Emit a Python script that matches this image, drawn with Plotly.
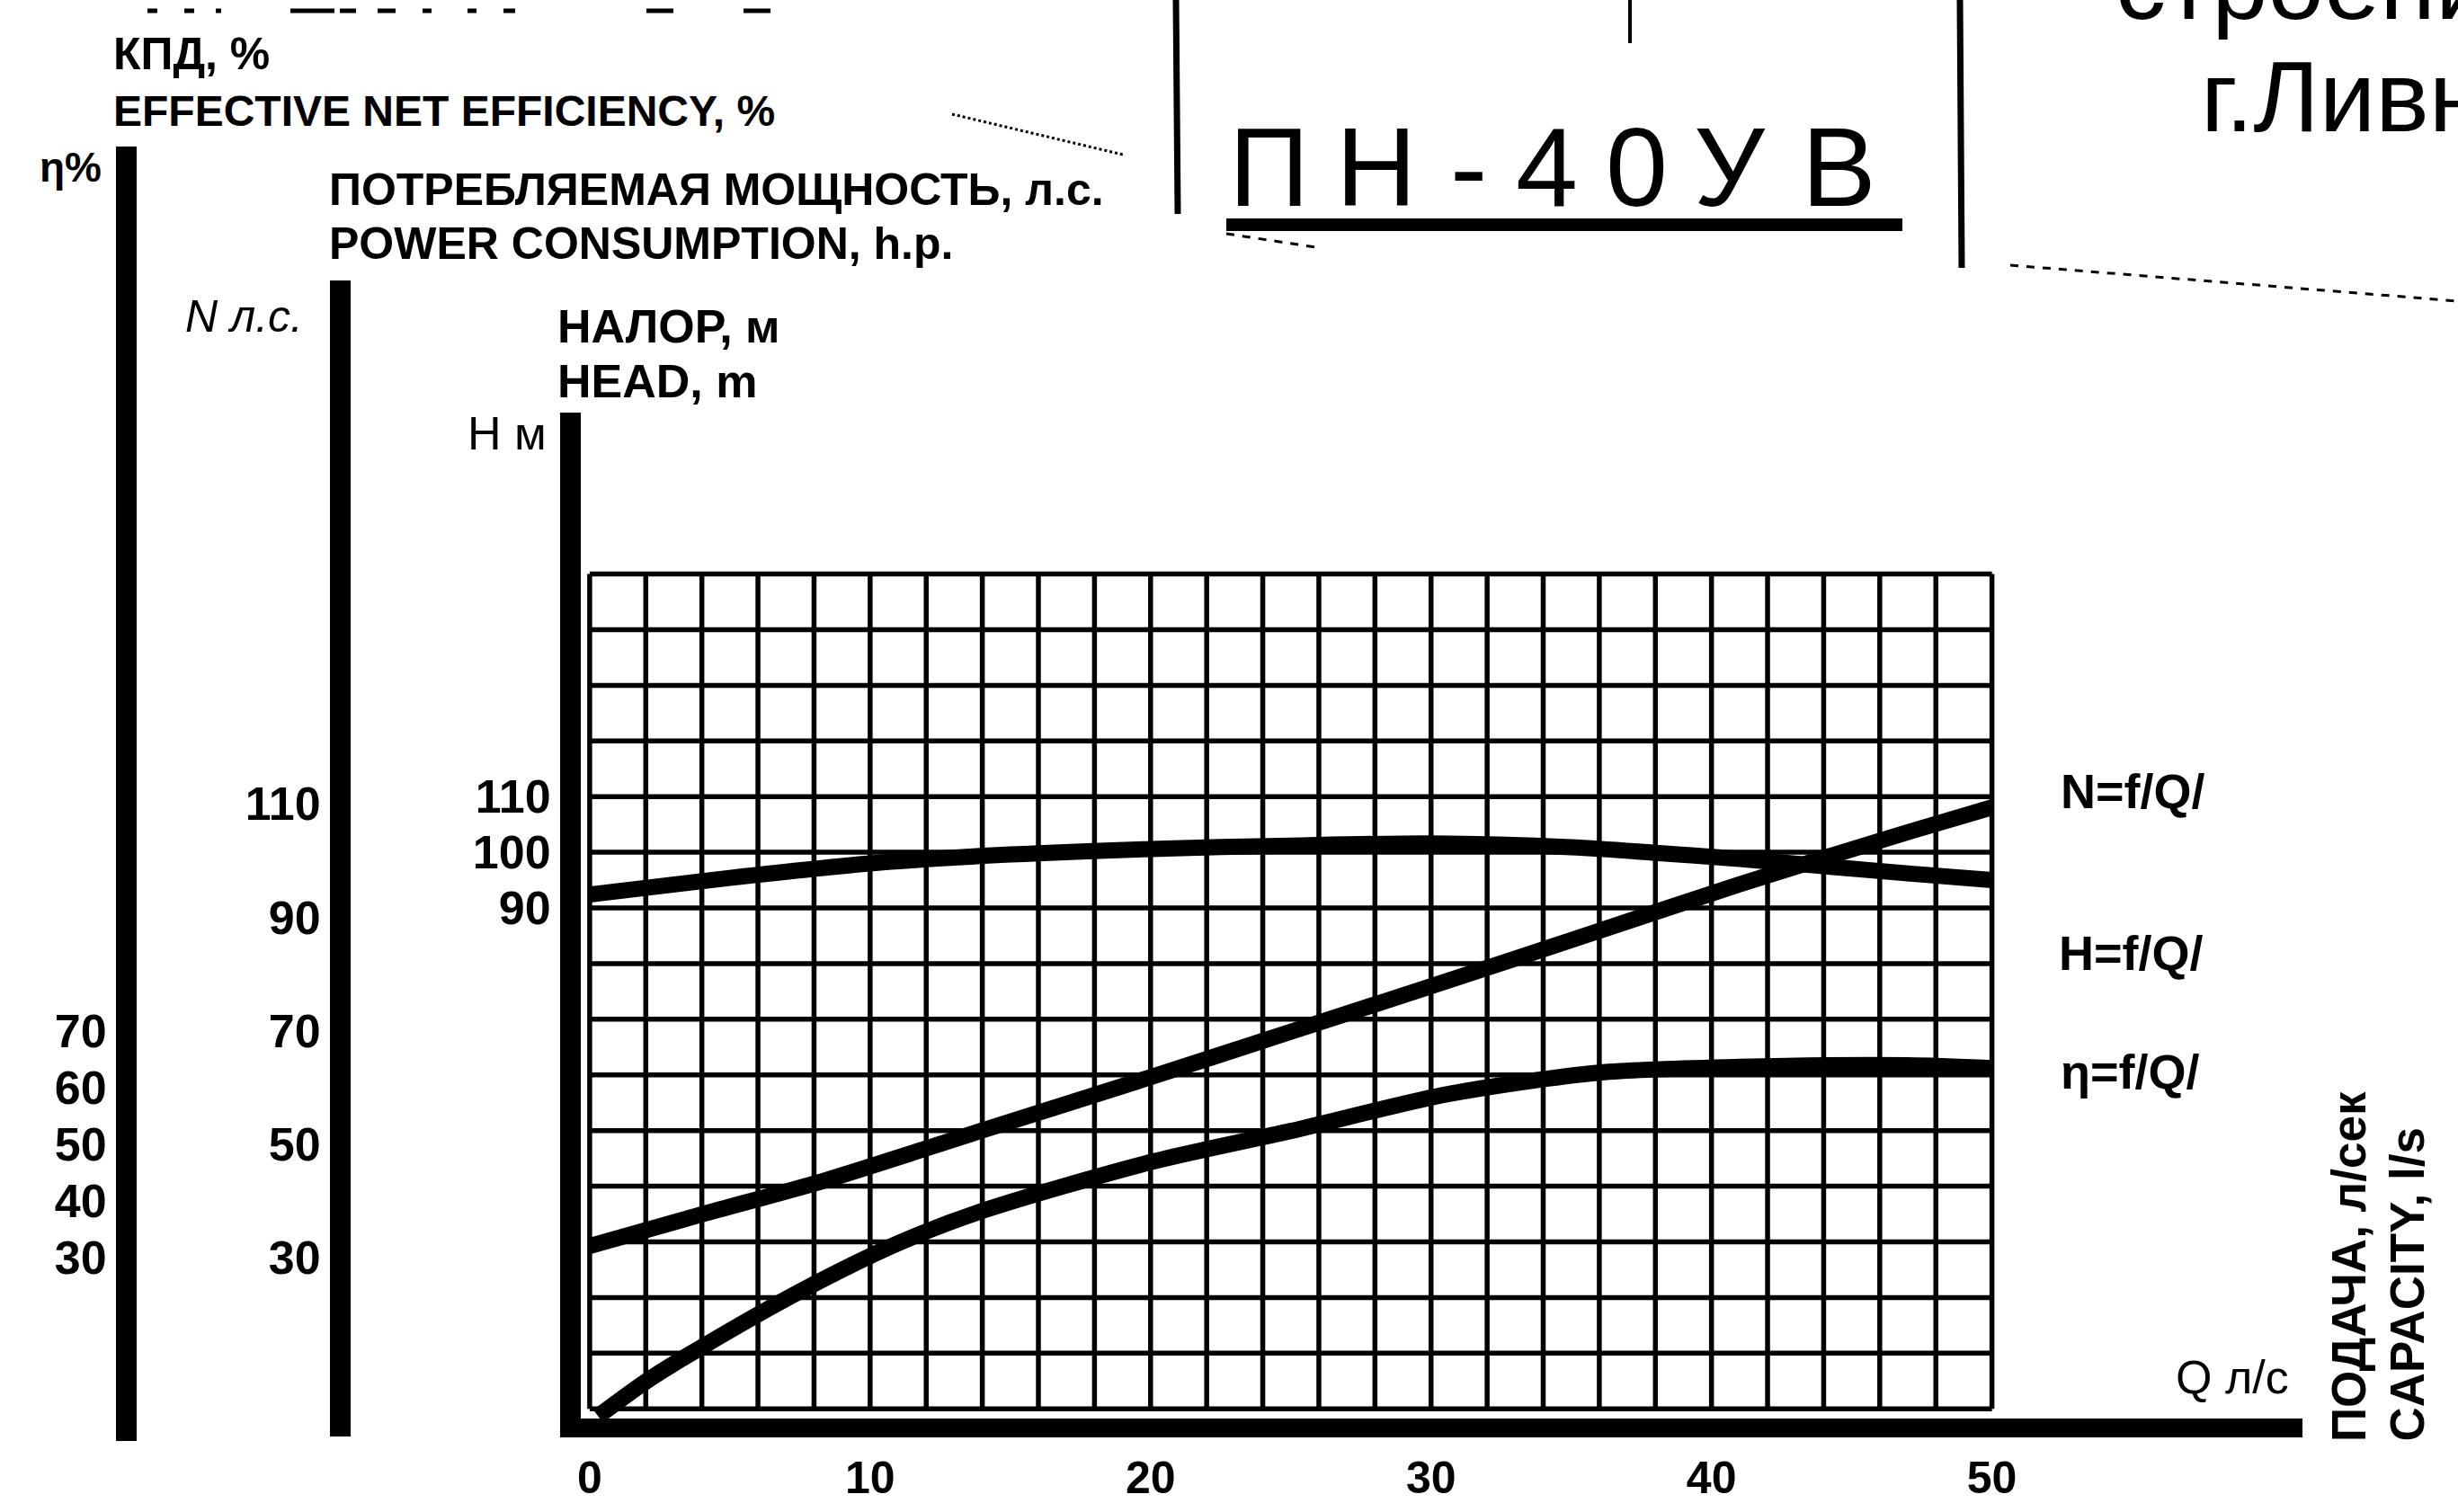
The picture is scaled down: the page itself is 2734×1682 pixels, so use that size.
import plotly.graph_objects as go

W, H = 2734, 1682

# ---------------- data ----------------
Q_head = [0, 5, 10, 15, 20, 25, 30, 35, 38, 41, 44, 47, 50]
head_m = [92.4, 95.4, 98.0, 99.6, 100.6, 101.2, 101.6, 100.9, 99.9, 98.8, 97.5, 96.2, 95.0]

Q_power = [0, 4, 8.4, 14, 20, 25, 30.6, 36, 41, 47, 50]
power_hp = [32.0, 37.6, 43.6, 52.4, 61.8, 69.8, 78.8, 87.6, 95.8, 105.0, 109.4]

Q_eff = [0.3, 2, 4, 7.5, 11, 14, 20, 25, 30.6, 36, 41, 47, 50]
eff_pct = [2.0, 8.1, 14.2, 24.0, 32.5, 38.2, 46.8, 52.3, 58.8, 62.6, 63.6, 63.9, 63.4]

Q_ticks = [0, 10, 20, 30, 40, 50]
H_ticks = [90, 100, 110]
N_ticks = [30, 50, 70, 90, 110]
eta_ticks = [30, 40, 50, 60, 70]
Q_grid = list(range(0, 51, 2))
H_grid = list(range(0, 151, 10))

# ---------------- layout geometry (pixels) ----------------
X0, XEND, PXQ = 636, 2561, 31.52      # Q=0 position, axis end, px per l/s
Y0, PXV = 1588, 6.307                 # value 0 position, px per unit
XL = 646                              # left edge of plot area (H bar drawn just outside)
YB = 1577.5                           # bottom edge of plot area (Q bar drawn just outside)
FONT = "Liberation Sans"


def px(x):
    return x / W


def py(y):
    return 1 - y / H


fig = go.Figure()

# grid (drawn from grid value lists)
gx, gy = [], []
for q in Q_grid:
    gx += [q, q, None]
    gy += [0, max(H_grid), None]
for h in H_grid:
    gx += [0, max(Q_grid), None]
    gy += [h, h, None]
fig.add_trace(go.Scatter(x=gx, y=gy, mode="lines", line=dict(color="black", width=5.5),
                         hoverinfo="skip", showlegend=False))

curve = dict(color="black", width=18, shape="spline", smoothing=0.8)
fig.add_trace(go.Scatter(x=Q_head, y=head_m, mode="lines", line=curve, name="H=f/Q/"))
fig.add_trace(go.Scatter(x=Q_power, y=power_hp, mode="lines", line=curve, name="N=f/Q/", yaxis="y2"))
fig.add_trace(go.Scatter(x=Q_eff, y=eff_pct, mode="lines", line=curve, name="η=f/Q/", yaxis="y3"))

tickfont = dict(family=FONT, size=52, color="black", weight="bold")

fig.update_layout(
    width=W, height=H, margin=dict(l=0, r=0, t=0, b=0, pad=0),
    paper_bgcolor="white", plot_bgcolor="rgba(0,0,0,0)",
    showlegend=False, hovermode=False,
    xaxis=dict(domain=[px(XL), px(XEND)], range=[-(XL - X0) / PXQ, (XEND - X0) / PXQ], anchor="y",
               showline=True, linewidth=21, linecolor="black", showgrid=False, zeroline=False,
               tickvals=Q_ticks, ticks="",
               tickfont=dict(family=FONT, size=50, color="black", weight="bold"),
               ticklabelstandoff=2, automargin=False),
    yaxis=dict(domain=[py(YB), py(459)], range=[-(Y0 - YB) / PXV, (Y0 - 459) / PXV], anchor="x",
               showline=True, linewidth=23, linecolor="black", showgrid=False, zeroline=False,
               tickvals=H_ticks, ticks="", tickfont=tickfont, automargin=False),
    yaxis2=dict(domain=[py(1598), py(312)], range=[-(1598 - Y0) / PXV, (Y0 - 312) / PXV],
                anchor="free", position=px(378), side="left",
                showline=True, linewidth=23, linecolor="black", showgrid=False, zeroline=False,
                tickvals=N_ticks, ticks="", tickfont=tickfont, automargin=False),
    yaxis3=dict(domain=[py(1603), py(163)], range=[-(1603 - Y0) / PXV, (Y0 - 163) / PXV],
                anchor="free", position=px(140), side="left",
                showline=True, linewidth=23, linecolor="black", showgrid=False, zeroline=False,
                tickvals=eta_ticks, ticks="", tickfont=tickfont, automargin=False),
)

ann = []


def text(t, x, y, size=52, xanchor="left", angle=0, yanchor="middle", weight="bold"):
    ann.append(dict(text=t, x=px(x), y=py(y), xref="paper", yref="paper", showarrow=False,
                    xanchor=xanchor, yanchor=yanchor, textangle=angle,
                    font=dict(family=FONT, size=size, color="black", weight=weight)))


text("КПД, %", 124, 60, size=50)
text("EFFECTIVE NET EFFICIENCY, %", 124, 123, size=48)
text("η%", 42, 186, size=46)
text("ПОТРЕБЛЯЕМАЯ МОЩНОСТЬ, л.с.", 364, 211, size=50)
text("POWER CONSUMPTION, h.p.", 364, 271, size=50)
text("<i>N л.с.</i>", 204, 352, size=50, weight="normal")
text("НАЛОР, м", 618, 363, size=52)
text("HEAD, m", 618, 424, size=52)
text("Н м", 610, 482, size=52, xanchor="right", weight="normal")
text("N=f/Q/", 2290, 880, size=54)
text("H=f/Q/", 2288, 1060, size=54)
text("η=f/Q/", 2290, 1192, size=54)
text("Q л/с", 2418, 1532, weight="normal")
text("ПОДАЧА, л/сек", 2612, 1606, size=53, angle=-90, xanchor="center", yanchor="bottom")
text("CAPACITY, l/s", 2677, 1606, size=53, angle=-90, xanchor="center", yanchor="bottom")

# title plate
for ch, cx in zip(["П", "Н", "-", "4", "0", "У", "В"], [1411, 1531, 1633, 1720, 1820, 1924, 2045]):
    text(ch, cx, 186, size=124, xanchor="center", weight="normal")
text("г.Ливны", 2446, 108, size=112, weight="normal")
text("строения", 2351, -18, size=112, weight="normal")

fig.update_layout(annotations=ann)

shapes = []


def line(x0, y0, x1, y1, w=6, dash="solid"):
    shapes.append(dict(type="line", xref="paper", yref="paper", x0=px(x0), y0=py(y0),
                       x1=px(x1), y1=py(y1), line=dict(color="black", width=w, dash=dash)))


line(1308, 0, 1310, 238, w=7)
line(2180, 0, 2182, 298, w=7)
line(1364, 250, 2116, 250, w=14)
line(1813, 0, 1813, 48, w=4)
line(1364, 260, 1470, 276, w=3, dash="dash")
line(2236, 295, 2734, 335, w=3, dash="dash")
line(1059, 127, 1249, 172, w=3, dash="dot")
for a, b in [(164, 175), (205, 216), (240, 246), (323, 372), (378, 396), (420, 440),
             (470, 480), (520, 530), (560, 573), (719, 749), (827, 857)]:
    line(a, 12, b, 12, w=5)

fig.update_layout(shapes=shapes)

fig.write_html("out.html", config={"displayModeBar": False, "staticPlot": True},
               post_script="document.body.style.margin='0px';")
